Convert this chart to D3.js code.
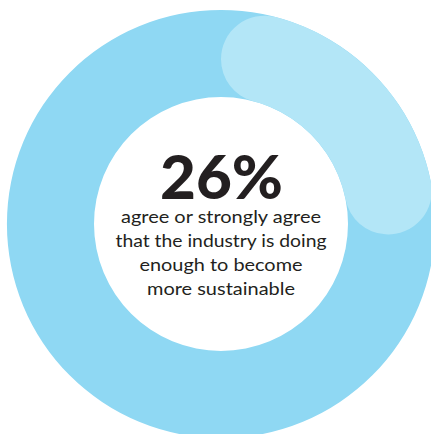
<!DOCTYPE html>
<html>
<head>
<meta charset="utf-8">
<script src="https://cdn.jsdelivr.net/npm/d3@7"></script>
<style>
  html, body { margin: 0; padding: 0; background: #ffffff; }
  svg { display: block; }
</style>
</head>
<body>
<div id="chart"></div>
<script>
// ---- data ----
const percentValue = 26;            // share agreeing
const totalValue = 100;
const headline = ["26%"];
const captionLines = [
  "agree or strongly agree",
  "that the industry is doing",
  "enough to become",
  "more sustainable"
];

// ---- layout ----
const width = 431, height = 434;
const cx = 221, cy = 224;
const outerR = 214, innerR = 127;
const colors = { track: "#8fd8f3", value: "#b3e6f7", text: "#231f20" };

const svg = d3.select("#chart").append("svg")
  .attr("width", width).attr("height", height);

const g = svg.append("g").attr("transform", `translate(${cx},${cy})`);

const angle = d3.scaleLinear().domain([0, totalValue]).range([0, 2 * Math.PI]);

const arc = d3.arc().innerRadius(innerR).outerRadius(outerR);

// background track (full ring)
g.append("path")
  .attr("d", arc({ startAngle: angle(0), endAngle: angle(totalValue) }))
  .attr("fill", colors.track);

// value arc with rounded ends
const valueArc = d3.arc().innerRadius(innerR).outerRadius(outerR)
  .cornerRadius((outerR - innerR) / 2);
g.append("path")
  .attr("d", valueArc({ startAngle: angle(0), endAngle: angle(percentValue) }))
  .attr("fill", colors.value);

// headline
const fontFam = "Lato, 'Open Sans', 'DejaVu Sans', sans-serif";
g.append("text")
  .attr("x", 0.5).attr("y", 199 - cy)
  .attr("text-anchor", "middle")
  .attr("font-family", fontFam)
  .attr("font-weight", 900)
  .attr("font-size", 61)
  .attr("fill", colors.text)
  .attr("textLength", 123)
  .attr("lengthAdjust", "spacingAndGlyphs")
  .text(headline[0]);

// caption lines
const lineWidths = [200, 211, 163, 148];
const baselines = [223, 247, 271, 295];
g.selectAll("text.cap").data(captionLines).join("text")
  .attr("class", "cap")
  .attr("x", 0)
  .attr("y", (d, i) => baselines[i] - cy)
  .attr("text-anchor", "middle")
  .attr("font-family", fontFam)
  .attr("font-size", 18)
  .attr("fill", colors.text)
  .attr("textLength", (d, i) => lineWidths[i])
  .attr("lengthAdjust", "spacingAndGlyphs")
  .text(d => d);
</script>
</body>
</html>
